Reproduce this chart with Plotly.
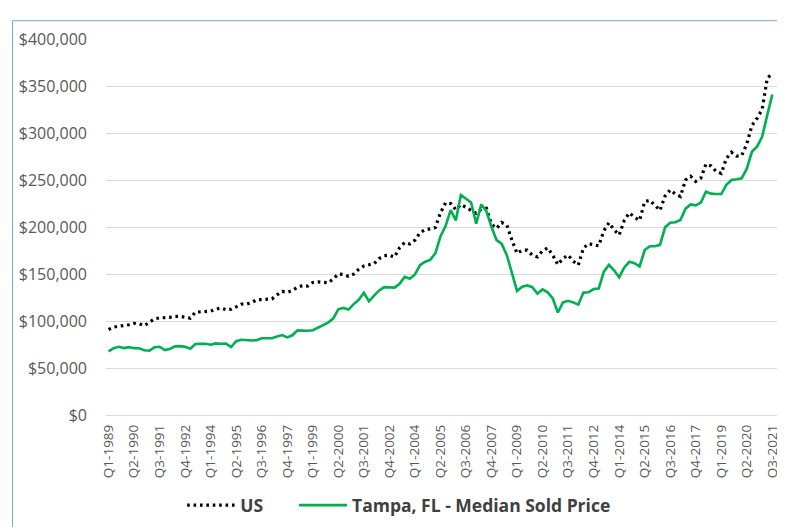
import plotly.graph_objects as go

# Quarter categories Q1-1989 .. Q4-2021 (last category has no data)
quarters = [f"Q{q}-{y}" for y in range(1989, 2022) for q in range(1, 5)]

us_price = [
    91, 93.5, 94.5, 95, 96, 97.5, 97, 95, 98.5, 102.3,
    103.3, 103.5, 103.8, 104.9, 104.9, 104, 103, 109.4, 110, 109.8,
    110.5, 112.5, 113.9, 112, 112.5, 115, 118, 118, 119.5, 122.5,
    123, 122.7, 123.5, 127.8, 131.5, 130.5, 132.5, 136, 137.7, 137.2,
    141, 141.7, 141.5, 140.6, 144.8, 150, 149.5, 147.6, 149.8, 155,
    158.5, 159.5, 161, 166.5, 169.5, 170, 168, 178, 183.5, 182,
    186, 194, 197, 198, 199.5, 215, 225.7, 225, 218.5, 224,
    221, 218, 214.5, 219, 219.8, 203, 198.5, 204.8, 202, 186,
    172, 175.3, 175.3, 170, 168.3, 174.8, 177.8, 170, 160, 166.5,
    170.1, 163.6, 159.5, 177.5, 182.3, 181, 180, 196, 204.5, 197,
    191.5, 207, 215, 210.5, 207, 227, 228.4, 223, 217.7, 233,
    239.5, 235, 232.5, 250, 254, 248.5, 252, 267, 265, 259,
    257, 273, 279.5, 275.5, 276, 288.5, 308, 315.5, 325, 358,
    363.5,
]

tampa_price = [
    67.7, 71, 72.5, 71.2, 72.2, 71, 71, 68.8, 68.4, 72,
    72.6, 69.1, 70.2, 73, 73.3, 72.5, 70.5, 75.5, 75.7, 75.7,
    74.8, 76.2, 75.8, 76, 72.2, 78.5, 80, 79.3, 79.2, 79.5,
    81.6, 81.6, 81.6, 83.5, 85, 82.5, 84.8, 90, 89.6, 89.6,
    90.2, 93.2, 95.5, 98.3, 102.5, 112.5, 113.9, 112.2, 118, 122.5,
    130, 121, 127, 132.5, 136, 135.4, 135.5, 139.5, 147, 145,
    149.5, 159.5, 163, 165, 172, 190, 201, 218, 207, 234,
    229.5, 226, 203.5, 224, 217, 200, 186, 182, 170, 151,
    132, 136.5, 137.8, 136, 129, 133.6, 130.5, 124, 109, 119.8,
    121.5, 119.8, 117.4, 130.2, 130.5, 134, 134.5, 152.5, 159.7, 154,
    146.5, 157, 163, 161.5, 158, 175.5, 179.5, 179.5, 181, 199.7,
    204.5, 205, 207.5, 219.5, 224, 223, 226, 237.5, 235.5, 235.1,
    235.1, 245, 250, 250.7, 251.7, 262, 280, 285.5, 296, 319,
    341,
]

us_vals = [v * 1000 for v in us_price]
tampa_vals = [v * 1000 for v in tampa_price]
x_vals = quarters[:len(us_vals)]
tick_labels = quarters[::5]

fig = go.Figure()
fig.add_trace(go.Scatter(
    x=x_vals, y=us_vals, name="US", mode="lines", legend="legend",
    line=dict(color="#000000", width=3.2, dash="2.6px,3.8px"),
))
fig.add_trace(go.Scatter(
    x=x_vals, y=tampa_vals, name="Tampa, FL - Median Sold Price", mode="lines",
    legend="legend2",
    line=dict(color="#00b050", width=2.6),
))

legend_font = dict(size=17.5, color="#404040", family="Open Sans", weight="bold")

fig.update_layout(
    width=785, height=527,
    margin=dict(l=98, r=13, t=31, b=112),
    paper_bgcolor="white", plot_bgcolor="white",
    font=dict(family="Open Sans", color="#595959"),
    showlegend=True,
    legend=dict(
        orientation="h", x=0.113, xanchor="left", y=-0.24, yanchor="middle",
        font=legend_font, itemwidth=48, bgcolor="rgba(0,0,0,0)",
    ),
    legend2=dict(
        orientation="h", x=0.279, xanchor="left", y=-0.24, yanchor="middle",
        font=legend_font, itemwidth=48, bgcolor="rgba(0,0,0,0)",
    ),
    xaxis=dict(
        type="category", categoryorder="array", categoryarray=quarters,
        range=[-0.5, len(quarters) - 0.5],
        tickmode="array", tickvals=tick_labels, ticktext=tick_labels,
        tickangle=-90, tickfont=dict(size=13.5, color="#595959"),
        showgrid=False, showline=False, ticks="", ticklabelstandoff=6,
        fixedrange=True,
    ),
    yaxis=dict(
        range=[0, 400000], dtick=50000, tickformat=",.0f", tickprefix="$",
        tickfont=dict(size=16, color="#595959"),
        showgrid=True, gridcolor="#d9d9d9", gridwidth=1,
        zeroline=True, zerolinecolor="#d9d9d9", zerolinewidth=1,
        showline=False, ticks="", ticklabelstandoff=18,
    ),
    shapes=[
        dict(type="line", xref="paper", yref="paper",
             x0=-0.1387, x1=-0.1387, y0=1.0487, y1=-0.3,
             line=dict(color="#7aa6d6", width=1)),
        dict(type="line", xref="paper", yref="paper",
             x0=-0.1387, x1=1.03, y0=1.0487, y1=1.0487,
             line=dict(color="#7aa6d6", width=1)),
    ],
)

fig.write_html("out.html")
